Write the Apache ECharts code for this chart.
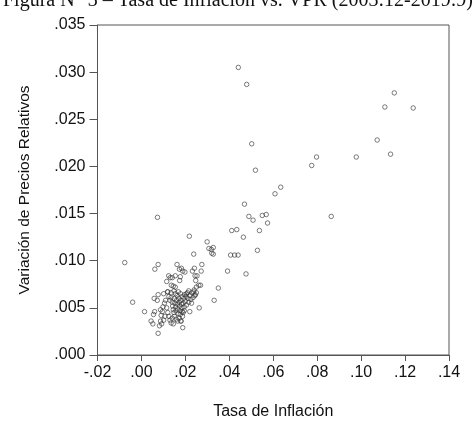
<!DOCTYPE html>
<html>
<head>
<meta charset="utf-8">
<script src="https://cdn.jsdelivr.net/npm/echarts@6/dist/echarts.min.js"></script>
<style>
  html, body { margin: 0; padding: 0; background: #fff; }
  #chart { width: 473px; height: 445px; }
</style>
</head>
<body>
<div id="chart"></div>
<script>
// Tasa de inflación (eje x) y variación de precios relativos (eje y)
const tasaInflacion = [
  -0.0076, -0.004, 0.0014, 0.0073, 0.0076, 0.0061, 0.0076, 0.0044, 0.0052, 0.0055,
  0.006, 0.0058, 0.0072, 0.0076, 0.0101, 0.0087, 0.0087, 0.0082, 0.0092, 0.0101, 0.0107,
  0.0119, 0.0115, 0.0124, 0.0131, 0.014, 0.0154, 0.0136, 0.0145, 0.0154, 0.0162,
  0.0173, 0.0182, 0.0188, 0.0198, 0.0177, 0.0174, 0.0218, 0.0238, 0.0232, 0.0241,
  0.0244, 0.0253, 0.0247, 0.0261, 0.0269, 0.0275, 0.0272, 0.0263, 0.0237, 0.025,
  0.0243, 0.022, 0.0188, 0.018,
  0.0299, 0.0307, 0.0318, 0.0327, 0.032, 0.0327, 0.0331, 0.035, 0.0392, 0.0411,
  0.0434, 0.0406, 0.0424, 0.044, 0.0464, 0.0469, 0.0476, 0.0489, 0.0508, 0.0519,
  0.0537, 0.0528, 0.055, 0.0568, 0.0574, 0.0608, 0.0634,
  0.0441, 0.0479, 0.0502, 0.0775, 0.0797, 0.0864, 0.0978, 0.1073, 0.1108, 0.1134,
  0.1151, 0.1237,
  0.0125, 0.013, 0.0135, 0.014, 0.0142, 0.0145, 0.0148, 0.015, 0.0152, 0.0155,
  0.0157, 0.016, 0.0162, 0.0164, 0.0165, 0.0167, 0.017, 0.0172, 0.0174, 0.0175,
  0.0177, 0.018, 0.0182, 0.0184, 0.0185, 0.0187, 0.019, 0.0193, 0.0195, 0.0197,
  0.02, 0.0203, 0.0205, 0.021, 0.0212, 0.0215, 0.022, 0.0225, 0.023, 0.0235,
  0.024, 0.0245, 0.025, 0.0115, 0.012, 0.0125, 0.013, 0.0135, 0.014, 0.0145,
  0.015, 0.0158, 0.0165, 0.0172, 0.018, 0.0105, 0.011, 0.0098, 0.0095, 0.009,
  0.0185, 0.0178, 0.0168, 0.0155, 0.0148, 0.019, 0.0195, 0.0205, 0.0215, 0.0228,
  0.012, 0.0135
];
const variacionPrecios = [
  0.0098, 0.0056, 0.0046, 0.0146, 0.0096, 0.0091, 0.0023, 0.0036, 0.0033, 0.0043,
  0.0046, 0.006, 0.0058, 0.0064, 0.0065, 0.0048, 0.0036, 0.0031, 0.0033, 0.0037, 0.0041,
  0.0067, 0.0078, 0.0084, 0.0082, 0.0082, 0.0084, 0.0074, 0.0073, 0.0072, 0.0096,
  0.0091, 0.0092, 0.0089, 0.0088, 0.0083, 0.0079, 0.0126, 0.0107, 0.0089, 0.0092,
  0.0084, 0.0084, 0.0079, 0.0074, 0.0074, 0.0096, 0.0089, 0.005, 0.0067, 0.0066,
  0.0063, 0.0046, 0.0029, 0.0036,
  0.012, 0.0113, 0.0112, 0.0114, 0.0108, 0.0107, 0.0058, 0.0071, 0.0089, 0.0132,
  0.0133, 0.0106, 0.0106, 0.0106, 0.0125, 0.016, 0.0086, 0.0147, 0.0143, 0.0196,
  0.0132, 0.0111, 0.0148, 0.0149, 0.014, 0.0171, 0.0178,
  0.0305, 0.0287, 0.0224, 0.0201, 0.021, 0.0147, 0.021, 0.0228, 0.0263, 0.0213,
  0.0278, 0.0262,
  0.0062, 0.0058, 0.0061, 0.0056, 0.0052, 0.0048, 0.0045, 0.006, 0.0055, 0.0051,
  0.0047, 0.0058, 0.0063, 0.0054, 0.0049, 0.0044, 0.006, 0.0056, 0.0052, 0.0047,
  0.0043, 0.0058, 0.0054, 0.005, 0.0046, 0.0041, 0.0055, 0.006, 0.0051, 0.0064,
  0.0057, 0.0062, 0.0053, 0.0066, 0.006, 0.0056, 0.0063, 0.0059, 0.0066, 0.0061,
  0.0069, 0.0064, 0.0072, 0.005, 0.0045, 0.0041, 0.0037, 0.0034, 0.0039, 0.0033,
  0.0041, 0.0038, 0.0036, 0.0039, 0.0036, 0.0055, 0.0058, 0.0051, 0.0046, 0.0042,
  0.0062, 0.0065, 0.0067, 0.0065, 0.0068, 0.0045, 0.0047, 0.0065, 0.0068, 0.0055,
  0.0067, 0.0066
];
const puntos = tasaInflacion.map((x, i) => [x, variacionPrecios[i]]);

const sinCero = (v, d) => v.toFixed(d).replace(/^(-?)0\./, '$1.');

var myChart = echarts.init(document.getElementById('chart'));
var option = {
  animation: false,
  title: {
    text: 'Figura N° 3 – Tasa de Inflación vs. VPR (2003:12-2019:9)',
    left: -2,
    top: -14,
    textStyle: {
      fontFamily: 'Liberation Serif',
      fontWeight: 'normal',
      fontSize: 20,
      color: '#111'
    }
  },
  grid: {
    left: 97.5,
    top: 25,
    right: 24,
    bottom: 90,
    show: true,
    borderColor: '#555',
    borderWidth: 1
  },
  xAxis: {
    type: 'value',
    min: -0.02,
    max: 0.14,
    interval: 0.02,
    name: 'Tasa de Inflación',
    nameLocation: 'middle',
    nameGap: 49,
    nameTextStyle: { fontFamily: 'Liberation Sans', fontSize: 16, color: '#111' },
    splitLine: { show: false },
    axisLine: { onZero: false, lineStyle: { color: '#555' } },
    axisTick: { length: 6, lineStyle: { color: '#555' } },
    axisLabel: {
      fontFamily: 'Liberation Sans',
      fontSize: 16,
      color: '#111',
      margin: 10,
      formatter: v => sinCero(v, 2)
    }
  },
  yAxis: {
    type: 'value',
    min: 0,
    max: 0.035,
    interval: 0.005,
    name: 'Variación de Precios Relativos',
    nameLocation: 'middle',
    nameGap: 65,
    nameTextStyle: { fontFamily: 'Liberation Sans', fontSize: 15.5, color: '#111' },
    splitLine: { show: false },
    axisLine: { onZero: false, lineStyle: { color: '#555' } },
    axisTick: { length: 8, lineStyle: { color: '#555' } },
    axisLabel: {
      fontFamily: 'Liberation Sans',
      fontSize: 16,
      color: '#111',
      margin: 12,
      formatter: v => sinCero(v, 3)
    }
  },
  series: [
    {
      type: 'scatter',
      data: puntos,
      symbol: 'circle',
      symbolSize: 4.5,
      itemStyle: {
        color: 'rgba(255,255,255,0)',
        borderColor: '#333',
        borderWidth: 0.8
      }
    }
  ]
};
myChart.setOption(option);
</script>
</body>
</html>
